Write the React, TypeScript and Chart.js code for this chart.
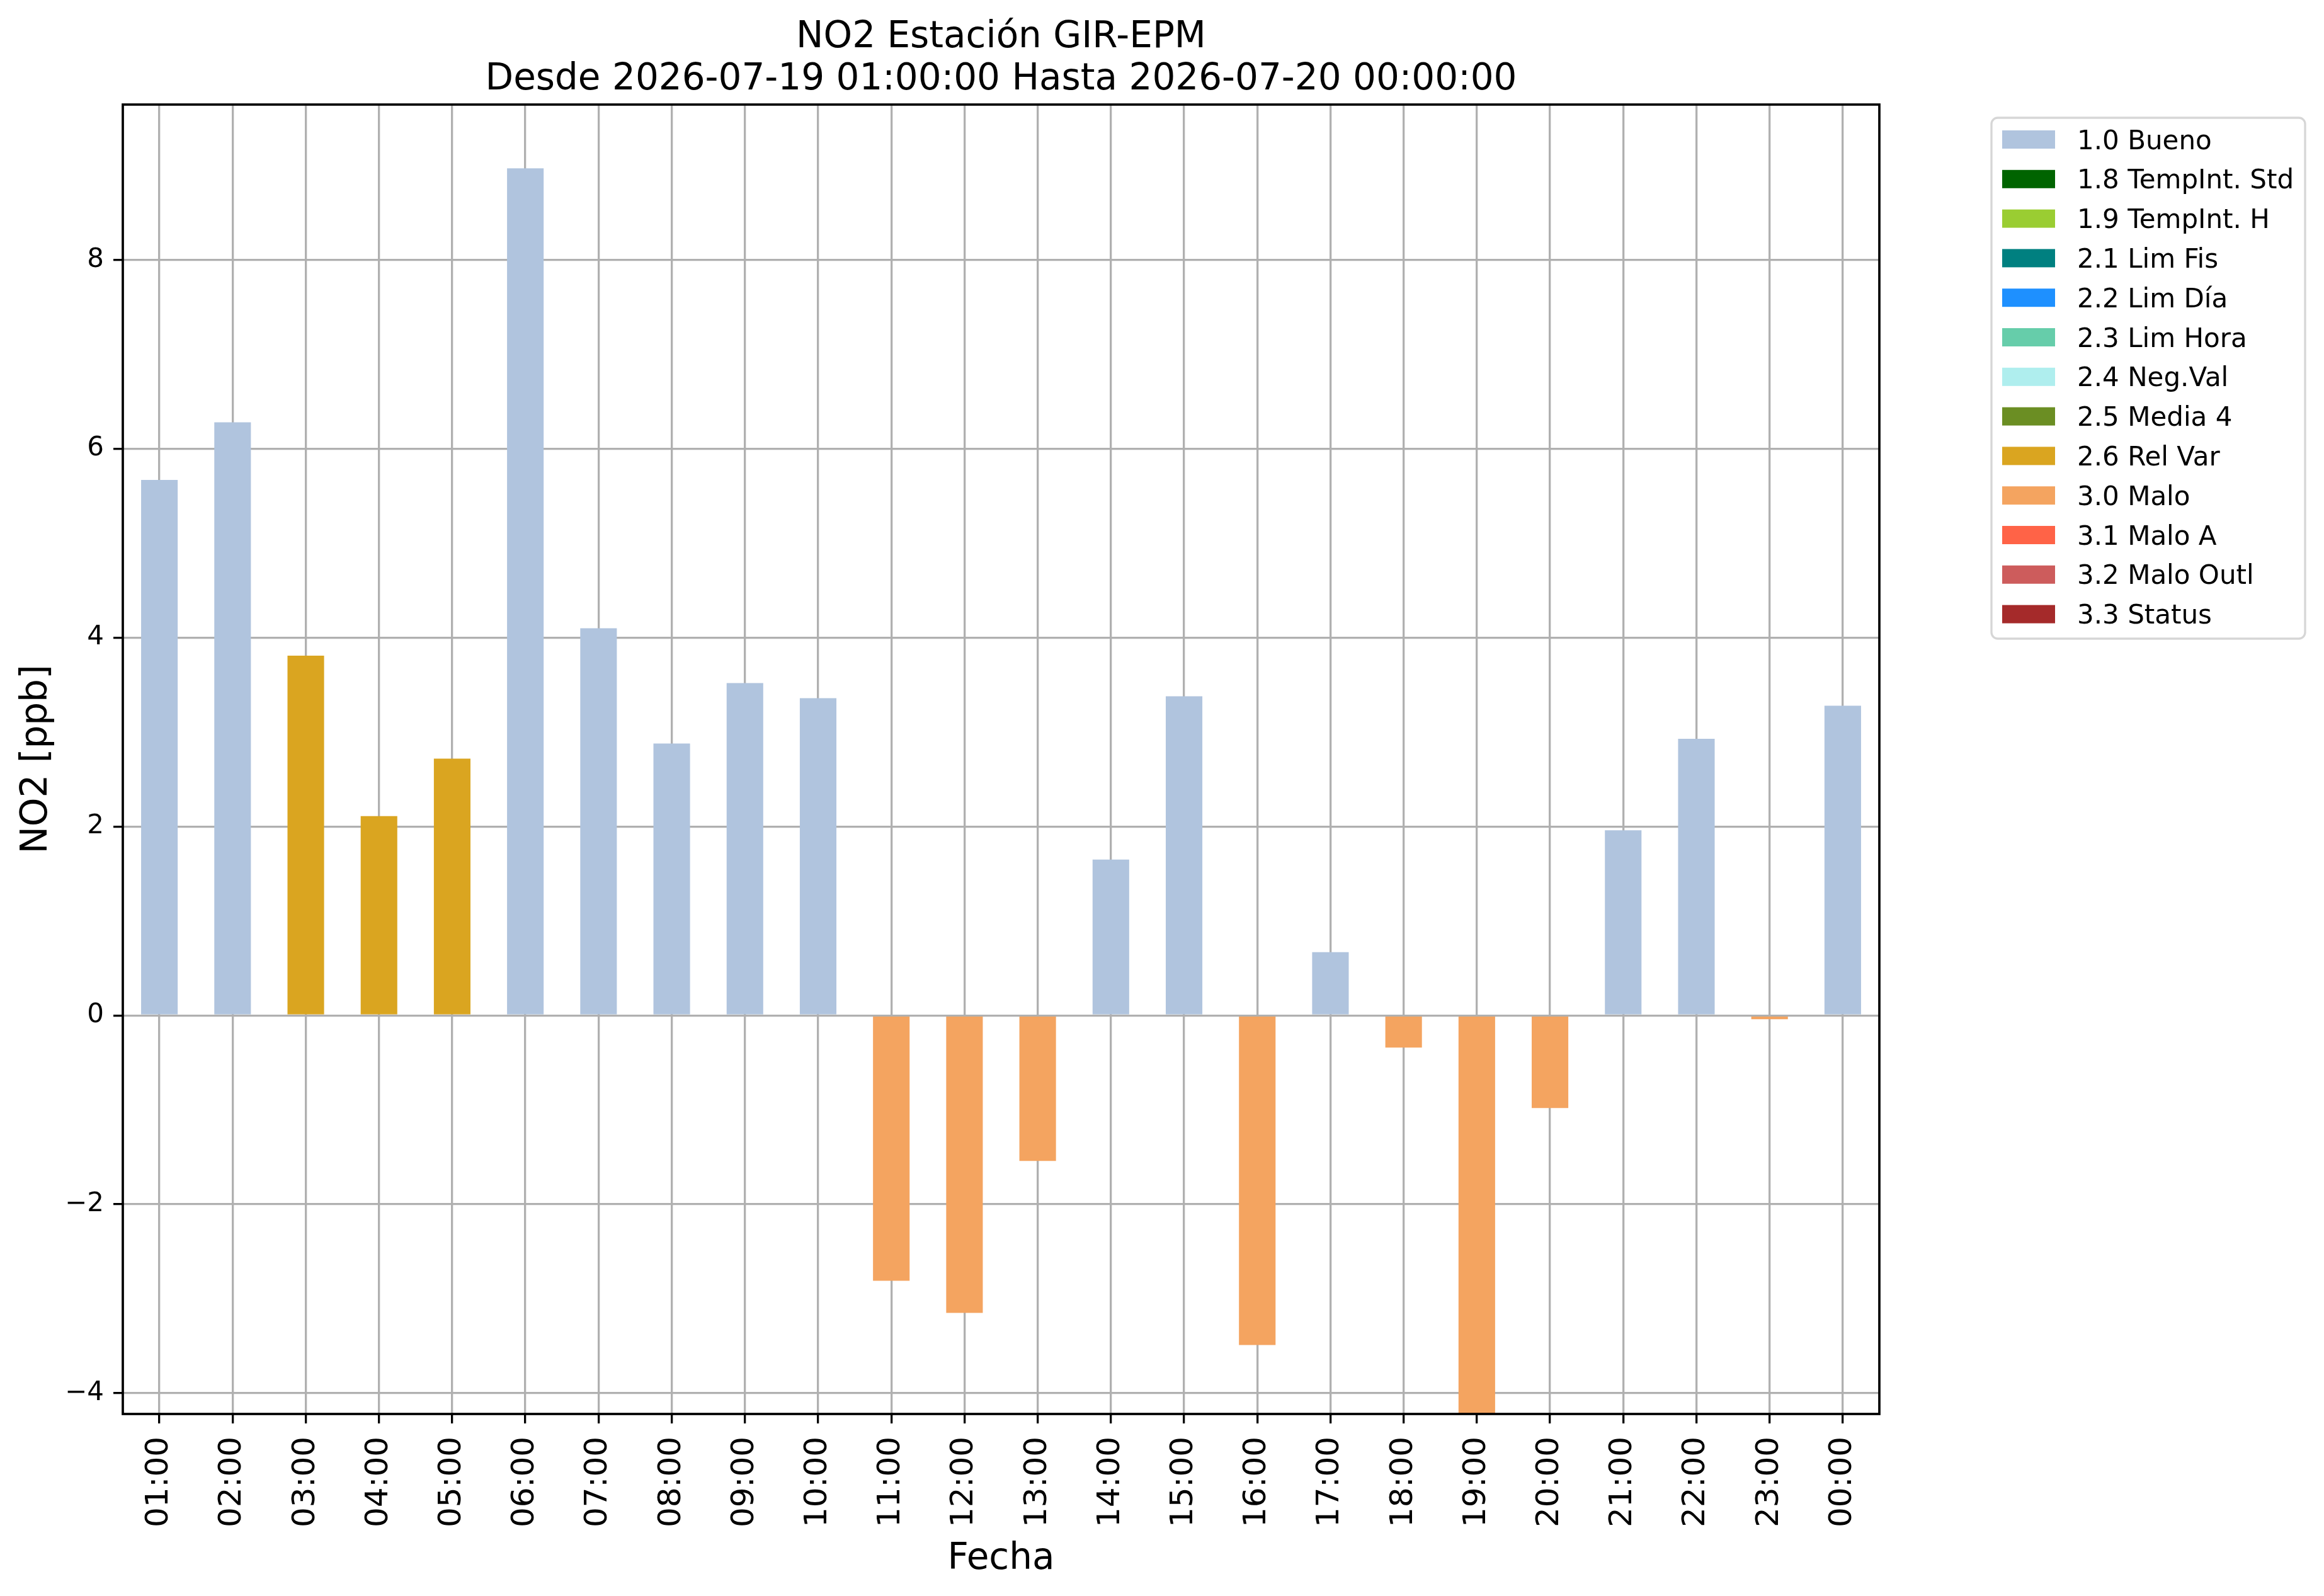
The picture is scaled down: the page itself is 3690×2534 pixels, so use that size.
import { useEffect, useRef } from "react";
import { Chart, registerables } from "chart.js";

Chart.register(...registerables);

const W = 3690;
const H = 2534;
const FONT = '"DejaVu Sans", sans-serif';

// Hourly NO2 readings and their validation flag
const HOURS = [
  "01:00", "02:00", "03:00", "04:00", "05:00", "06:00", "07:00", "08:00",
  "09:00", "10:00", "11:00", "12:00", "13:00", "14:00", "15:00", "16:00",
  "17:00", "18:00", "19:00", "20:00", "21:00", "22:00", "23:00", "00:00",
];
const NO2_PPB = [
  5.67, 6.28, 3.81, 2.11, 2.72, 8.97, 4.1, 2.88, 3.52, 3.36, -2.81, -3.15,
  -1.54, 1.65, 3.38, -3.49, 0.67, -0.34, -4.5, -0.98, 1.96, 2.93, -0.04, 3.28,
];
const FLAGS = [
  "1.0", "1.0", "2.6", "2.6", "2.6", "1.0", "1.0", "1.0", "1.0", "1.0", "3.0", "3.0",
  "3.0", "1.0", "1.0", "3.0", "1.0", "3.0", "3.0", "3.0", "1.0", "1.0", "3.0", "1.0",
];

// Flag legend
const FLAG_CODES = ["1.0", "1.8", "1.9", "2.1", "2.2", "2.3", "2.4", "2.5", "2.6", "3.0", "3.1", "3.2", "3.3"];
const FLAG_NAMES = [
  "Bueno", "TempInt. Std", "TempInt. H", "Lim Fis", "Lim Día", "Lim Hora",
  "Neg.Val", "Media 4", "Rel Var", "Malo", "Malo A", "Malo Outl", "Status",
];
const FLAG_COLORS = [
  "#b0c4de", "#006400", "#9acd32", "#008080", "#1e90ff", "#66cdaa",
  "#afeeee", "#6b8e23", "#daa520", "#f4a460", "#ff6347", "#cd5c5c", "#a52a2a",
];

const TITLE_LINES = ["NO2 Estación GIR-EPM", "Desde 2026-07-19 01:00:00 Hasta 2026-07-20 00:00:00"];
const X_TITLE = "Fecha";
const Y_TITLE = "NO2 [ppb]";
const Y_MIN = -4.22;
const Y_MAX = 9.645;

// plot box in page pixels
const PLOT = { left: 195, top: 166, right: 2984, bottom: 2245 };

// ─── titles, frame and legend ────────────────────────────────────
const decorPlugin = {
  id: "decor",
  afterDraw(chart: Chart) {
    const { ctx, chartArea: a } = chart;
    ctx.save();
    ctx.strokeStyle = "#000";
    ctx.lineWidth = 3.7;
    ctx.strokeRect(a.left, a.top, a.right - a.left, a.bottom - a.top);

    const cx = (a.left + a.right) / 2;
    ctx.fillStyle = "#000";
    ctx.font = `58px ${FONT}`;
    ctx.textAlign = "center";
    ctx.textBaseline = "alphabetic";
    ctx.fillText(TITLE_LINES[0], cx, 75);
    ctx.fillText(TITLE_LINES[1], cx, 142);
    ctx.fillText(X_TITLE, cx, 2491);

    ctx.save();
    ctx.translate(74, (a.top + a.bottom) / 2);
    ctx.rotate(-Math.PI / 2);
    ctx.fillText(Y_TITLE, 0, 0);
    ctx.restore();

    // legend box
    const bx = 3162, by = 187, bw = 498, bh = 827, r = 10;
    ctx.beginPath();
    ctx.moveTo(bx + r, by);
    ctx.arcTo(bx + bw, by, bx + bw, by + bh, r);
    ctx.arcTo(bx + bw, by + bh, bx, by + bh, r);
    ctx.arcTo(bx, by + bh, bx, by, r);
    ctx.arcTo(bx, by, bx + bw, by, r);
    ctx.closePath();
    ctx.fillStyle = "#fff";
    ctx.fill();
    ctx.strokeStyle = "#d6d6d6";
    ctx.lineWidth = 3.3;
    ctx.stroke();

    ctx.font = `42px ${FONT}`;
    ctx.textAlign = "left";
    FLAG_CODES.forEach((code, i) => {
      const cy = 221.5 + i * 62.8;
      ctx.fillStyle = FLAG_COLORS[i];
      ctx.fillRect(3179, cy - 14.5, 84, 29);
      ctx.fillStyle = "#000";
      ctx.fillText(`${code} ${FLAG_NAMES[i]}`, 3298, cy + 15);
    });
    ctx.restore();
  },
};

export default function App() {
  const canvasRef = useRef<HTMLCanvasElement>(null);

  useEffect(() => {
    document.body.style.margin = "0";
    document.body.style.overflow = "hidden";
    if (!canvasRef.current) return;

    const datasets = FLAG_CODES.map((code, i) => ({
      label: `${code} ${FLAG_NAMES[i]}`,
      data: NO2_PPB.map((v, j) => (FLAGS[j] === code ? v : null)),
      backgroundColor: FLAG_COLORS[i],
      borderWidth: 0,
      barPercentage: 0.5,
      categoryPercentage: 1,
    }));

    const chart = new Chart(canvasRef.current, {
      type: "bar",
      plugins: [decorPlugin],
      data: { labels: HOURS, datasets },
      options: {
        responsive: false,
        animation: false,
        devicePixelRatio: 1,
        layout: { padding: { top: PLOT.top, right: W - PLOT.right, left: 0, bottom: 0 } },
        plugins: { legend: { display: false }, title: { display: false }, tooltip: { enabled: false } },
        scales: {
          x: {
            stacked: true,
            z: 1,
            afterFit: (s: any) => {
              s.height = H - PLOT.bottom;
            },
            border: { display: false },
            grid: {
              offset: false,
              color: "#b0b0b0",
              lineWidth: 3.3,
              tickColor: "#000",
              tickWidth: 3.3,
              tickLength: 15,
            },
            ticks: {
              minRotation: 90,
              maxRotation: 90,
              autoSkip: false,
              padding: 21,
              color: "#000",
              font: { family: FONT, size: 50 },
            },
          },
          y: {
            stacked: true,
            z: 1,
            min: Y_MIN,
            max: Y_MAX,
            afterFit: (s: any) => {
              s.width = PLOT.left;
            },
            border: { display: false },
            grid: {
              color: "#b0b0b0",
              lineWidth: 3.3,
              tickColor: "#000",
              tickWidth: 3.3,
              tickLength: 15,
            },
            ticks: {
              stepSize: 2,
              includeBounds: false,
              padding: 15,
              color: "#000",
              font: { family: FONT, size: 42 },
              callback: (v: any) => String(v).replace("-", "\u2212"),
            },
          },
        },
      },
    });
    return () => chart.destroy();
  }, []);

  return (
    <div style={{ position: "absolute", left: 0, top: 0, width: W, height: H, background: "#fff" }}>
      <canvas ref={canvasRef} width={W} height={H} style={{ width: W, height: H }} />
    </div>
  );
}
